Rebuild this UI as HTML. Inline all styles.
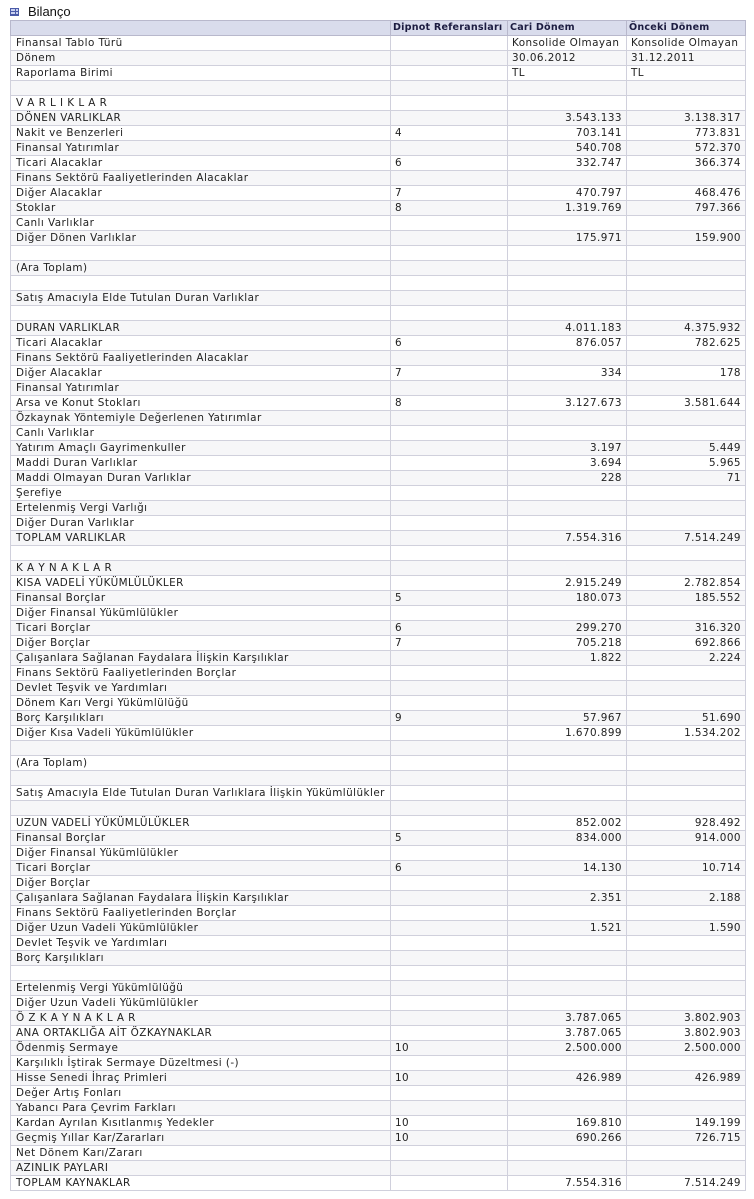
<!DOCTYPE html>
<html><head><meta charset="utf-8">
<style>
html,body{margin:0;padding:0;background:#fff;width:754px;height:1199px;overflow:hidden}
body{font-family:"DejaVu Sans","Liberation Sans",sans-serif;color:#222}
#title{position:absolute;left:10px;top:4px;height:16px;font-family:"Liberation Sans",sans-serif;font-size:13px;line-height:16px;color:#111}
#icon{position:absolute;left:0px;top:4px;width:9px;height:8px;border:1px solid #4a5aa8;background:
linear-gradient(#4a5aa8,#4a5aa8) 0 2px/100% 1px no-repeat,
linear-gradient(#4a5aa8,#4a5aa8) 0 5px/100% 1px no-repeat,
linear-gradient(90deg,#4a5aa8,#4a5aa8) 4px 0/1px 100% no-repeat,#c8d0f0;box-sizing:border-box}
#ttext{position:absolute;left:18px;top:0}
table{position:absolute;left:10px;top:20px;width:735px;border-collapse:collapse;table-layout:fixed}
td,th{height:14px;padding:0 4px;border:1px solid #d0d0dc;font-size:10.4px;line-height:14px;white-space:nowrap;overflow:hidden;letter-spacing:0.45px}
th{background:#d9dcec;text-align:left;font-weight:bold;color:#1c1c40;font-size:9.6px;border-color:#b8b8cc;padding:0 2px;letter-spacing:0.2px}
tr.odd td{background:#fff}
tr.even td{background:#f6f6f8}
td.n{text-align:right}
td.l{padding-left:5px}
</style></head><body>
<div id="title"><div id="icon"></div><span id="ttext">Bilanço</span></div>
<table id="t">
<colgroup><col style="width:380px"><col style="width:117px"><col style="width:119px"><col style="width:119px"></colgroup>
<thead><tr><th></th><th>Dipnot Referansları</th><th>Cari Dönem</th><th>Önceki Dönem</th></tr></thead>
<tbody id="tb"></tbody>
</table>
<script>
const labels=["Finansal Tablo Türü","Dönem","Raporlama Birimi","","V A R L I K L A R","DÖNEN VARLIKLAR","Nakit ve Benzerleri","Finansal Yatırımlar","Ticari Alacaklar","Finans Sektörü Faaliyetlerinden Alacaklar","Diğer Alacaklar","Stoklar","Canlı Varlıklar","Diğer Dönen Varlıklar","","(Ara Toplam)","","Satış Amacıyla Elde Tutulan Duran Varlıklar","","DURAN VARLIKLAR","Ticari Alacaklar","Finans Sektörü Faaliyetlerinden Alacaklar","Diğer Alacaklar","Finansal Yatırımlar","Arsa ve Konut Stokları","Özkaynak Yöntemiyle Değerlenen Yatırımlar","Canlı Varlıklar","Yatırım Amaçlı Gayrimenkuller","Maddi Duran Varlıklar","Maddi Olmayan Duran Varlıklar","Şerefiye","Ertelenmiş Vergi Varlığı","Diğer Duran Varlıklar","TOPLAM VARLIKLAR","","K A Y N A K L A R","KISA VADELİ YÜKÜMLÜLÜKLER","Finansal Borçlar","Diğer Finansal Yükümlülükler","Ticari Borçlar","Diğer Borçlar","Çalışanlara Sağlanan Faydalara İlişkin Karşılıklar","Finans Sektörü Faaliyetlerinden Borçlar","Devlet Teşvik ve Yardımları","Dönem Karı Vergi Yükümlülüğü","Borç Karşılıkları","Diğer Kısa Vadeli Yükümlülükler","","(Ara Toplam)","","Satış Amacıyla Elde Tutulan Duran Varlıklara İlişkin Yükümlülükler","","UZUN VADELİ YÜKÜMLÜLÜKLER","Finansal Borçlar","Diğer Finansal Yükümlülükler","Ticari Borçlar","Diğer Borçlar","Çalışanlara Sağlanan Faydalara İlişkin Karşılıklar","Finans Sektörü Faaliyetlerinden Borçlar","Diğer Uzun Vadeli Yükümlülükler","Devlet Teşvik ve Yardımları","Borç Karşılıkları","","Ertelenmiş Vergi Yükümlülüğü","Diğer Uzun Vadeli Yükümlülükler","Ö Z K A Y N A K L A R","ANA ORTAKLIĞA AİT ÖZKAYNAKLAR","Ödenmiş Sermaye","Karşılıklı İştirak Sermaye Düzeltmesi (-)","Hisse Senedi İhraç Primleri","Değer Artış Fonları","Yabancı Para Çevrim Farkları","Kardan Ayrılan Kısıtlanmış Yedekler","Geçmiş Yıllar Kar/Zararları","Net Dönem Karı/Zararı","AZINLIK PAYLARI","TOPLAM KAYNAKLAR"];
const notes={6:"4",8:"6",10:"7",11:"8",20:"6",22:"7",24:"8",37:"5",39:"6",40:"7",45:"9",53:"5",55:"6",67:"10",69:"10",72:"10",73:"10"};
const cari={0:"Konsolide Olmayan",1:"30.06.2012",2:"TL",5:"3.543.133",6:"703.141",7:"540.708",8:"332.747",10:"470.797",11:"1.319.769",13:"175.971",19:"4.011.183",20:"876.057",22:"334",24:"3.127.673",27:"3.197",28:"3.694",29:"228",33:"7.554.316",36:"2.915.249",37:"180.073",39:"299.270",40:"705.218",41:"1.822",45:"57.967",46:"1.670.899",52:"852.002",53:"834.000",55:"14.130",57:"2.351",59:"1.521",65:"3.787.065",66:"3.787.065",67:"2.500.000",69:"426.989",72:"169.810",73:"690.266",76:"7.554.316"};
const onceki={0:"Konsolide Olmayan",1:"31.12.2011",2:"TL",5:"3.138.317",6:"773.831",7:"572.370",8:"366.374",10:"468.476",11:"797.366",13:"159.900",19:"4.375.932",20:"782.625",22:"178",24:"3.581.644",27:"5.449",28:"5.965",29:"71",33:"7.514.249",36:"2.782.854",37:"185.552",39:"316.320",40:"692.866",41:"2.224",45:"51.690",46:"1.534.202",52:"928.492",53:"914.000",55:"10.714",57:"2.188",59:"1.590",65:"3.802.903",66:"3.802.903",67:"2.500.000",69:"426.989",72:"149.199",73:"726.715",76:"7.514.249"};
const tb=document.getElementById('tb');
labels.forEach((lab,i)=>{
  const tr=document.createElement('tr');
  tr.className=i%2?'even':'odd';
  
  
  const c1=document.createElement('td');c1.className='l';c1.textContent=lab;
  
  
  const c2=document.createElement('td');c2.textContent=notes[i]||'';
  
  
  const c3=document.createElement('td');c3.textContent=cari[i]||'';
  c3.className=i<3?'':'n';
  
  
  const c4=document.createElement('td');c4.textContent=onceki[i]||'';
  c4.className=i<3?'':'n';
  
  
  tr.append(c1,c2,c3,c4);tb.appendChild(tr);
});
</script>
</body></html>
